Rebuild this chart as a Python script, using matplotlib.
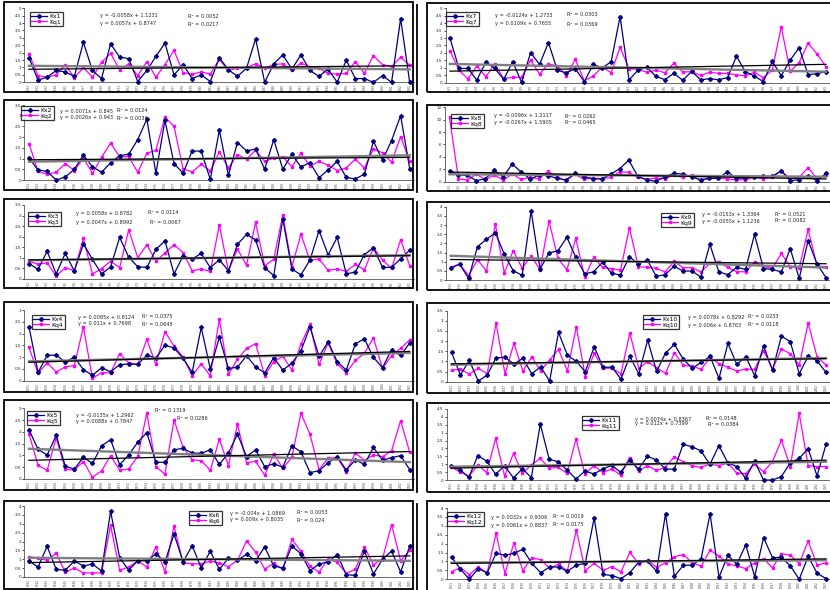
import numpy as np
import matplotlib
matplotlib.use('Agg')
import matplotlib.pyplot as plt
from matplotlib.patches import Rectangle
from matplotlib.lines import Line2D

W, H = 830, 590
years = [str(y) for y in range(1961, 2004)]

kx1 = [1.65, 0.15, 0.35, 0.8, 0.7, 0.4, 2.7, 0.8, 0.25, 2.6, 1.7, 1.6, 0.05, 0.8, 1.75, 2.65, 0.5, 1.2, 0.25, 0.5, 0.05, 1.65, 0.85, 0.4, 0.95, 2.95, 0.0, 1.25, 1.85, 0.9, 1.85, 0.8, 0.4, 0.9, 0.0, 1.5, 0.25, 0.25, 0.0, 0.45, 0.0, 4.3, 0.0]
kq1 = [1.9, 0.45, 0.35, 0.5, 1.2, 0.3, 1.0, 0.35, 1.35, 1.95, 0.85, 1.25, 0.45, 1.4, 0.35, 1.2, 2.15, 0.65, 0.55, 0.7, 0.55, 1.55, 0.8, 0.95, 1.0, 1.25, 0.95, 1.2, 1.25, 0.8, 1.3, 1.05, 0.95, 0.6, 0.55, 0.6, 1.4, 0.6, 1.8, 1.2, 1.05, 1.7, 1.15]
kx2 = [1.02, 0.47, 0.4, 0.0, 0.14, 0.5, 1.16, 0.62, 0.36, 0.8, 1.14, 1.2, 1.89, 2.84, 0.31, 2.78, 0.77, 0.31, 1.36, 1.34, 0.03, 2.33, 0.22, 1.75, 1.36, 1.44, 0.5, 1.89, 0.5, 1.2, 0.61, 0.81, 0.11, 0.47, 0.87, 0.12, 0.05, 0.27, 1.81, 0.92, 1.84, 3.0, 0.53]
kq2 = [1.7, 0.4, 0.27, 0.36, 0.77, 0.44, 1.02, 0.31, 1.06, 1.72, 1.09, 1.09, 0.36, 1.25, 1.38, 2.94, 2.5, 0.52, 0.38, 0.73, 0.42, 1.31, 0.56, 1.19, 0.97, 1.39, 0.87, 1.02, 1.09, 0.62, 1.25, 0.64, 0.87, 0.69, 0.44, 0.56, 0.98, 0.56, 1.45, 1.27, 0.83, 2.03, 0.87]
kx3 = [0.73, 0.46, 1.31, 0.24, 1.21, 0.38, 1.66, 0.93, 0.24, 0.57, 1.97, 1.03, 0.58, 0.55, 1.4, 1.81, 0.24, 1.09, 0.95, 1.21, 0.54, 0.91, 0.39, 1.64, 2.11, 1.85, 0.54, 0.16, 2.84, 0.47, 0.2, 0.9, 2.29, 1.14, 1.97, 0.24, 0.33, 1.15, 1.48, 0.55, 0.55, 0.96, 1.36]
kq3 = [0.85, 0.69, 0.77, 0.14, 0.54, 0.39, 1.92, 0.24, 0.49, 0.84, 0.54, 2.32, 1.01, 1.62, 0.85, 1.23, 1.62, 1.25, 0.39, 0.47, 0.36, 2.56, 0.38, 1.42, 0.65, 2.68, 0.63, 0.93, 3.03, 0.58, 2.11, 0.88, 0.95, 0.41, 0.47, 0.36, 0.69, 0.43, 1.48, 0.9, 0.5, 1.86, 0.63]
kx4 = [2.29, 0.35, 1.07, 1.09, 0.79, 1.0, 0.47, 0.23, 0.55, 0.38, 0.68, 0.71, 0.69, 1.09, 0.96, 1.51, 1.39, 0.95, 0.35, 2.26, 0.5, 1.84, 0.52, 0.57, 1.06, 0.59, 0.33, 0.98, 0.45, 0.74, 1.27, 2.28, 1.03, 1.65, 0.81, 0.45, 1.56, 1.78, 0.99, 0.55, 1.32, 1.07, 1.6]
kq4 = [1.41, 0.31, 0.76, 0.37, 0.59, 0.64, 2.28, 0.1, 0.34, 0.33, 1.15, 0.76, 0.69, 1.75, 0.69, 2.08, 1.47, 1.0, 0.21, 0.71, 0.21, 2.62, 0.27, 0.91, 1.37, 1.57, 0.21, 0.81, 1.03, 0.47, 1.54, 2.4, 0.69, 1.6, 0.71, 0.34, 0.86, 1.16, 1.82, 0.52, 1.06, 1.37, 1.73]
kx5 = [2.09, 1.26, 1.02, 1.85, 0.55, 0.42, 0.92, 0.66, 1.4, 1.67, 0.61, 1.02, 1.56, 1.97, 0.71, 0.71, 1.24, 1.3, 1.1, 1.09, 1.24, 0.62, 1.1, 1.91, 0.95, 1.24, 0.52, 0.65, 0.5, 1.41, 1.15, 0.27, 0.35, 0.69, 0.95, 0.38, 0.81, 0.62, 1.34, 0.79, 0.91, 0.99, 0.4]
kq5 = [1.92, 0.58, 0.37, 1.75, 0.42, 0.38, 0.74, 0.08, 0.34, 0.99, 0.37, 0.42, 0.96, 2.81, 0.52, 0.21, 2.5, 1.34, 0.81, 0.78, 0.37, 1.68, 0.57, 2.33, 0.69, 0.75, 0.16, 1.06, 0.45, 0.92, 2.79, 1.9, 0.4, 0.88, 0.91, 0.31, 1.1, 0.79, 1.02, 0.95, 1.19, 2.48, 1.13]
kx6 = [0.9, 0.56, 1.73, 0.43, 0.38, 0.9, 0.62, 0.73, 0.34, 3.7, 1.09, 0.39, 0.92, 0.92, 1.3, 0.85, 2.42, 0.85, 1.77, 0.51, 1.45, 0.43, 1.07, 0.94, 1.28, 0.92, 1.69, 0.62, 0.51, 1.75, 1.31, 0.36, 0.73, 0.85, 1.26, 0.13, 0.09, 1.46, 0.17, 1.0, 1.46, 0.28, 1.73]
kq6 = [1.13, 1.07, 0.94, 1.35, 0.26, 0.51, 0.23, 0.23, 0.23, 2.91, 0.38, 0.56, 0.9, 0.56, 1.69, 0.28, 2.87, 0.79, 0.75, 0.73, 0.9, 0.79, 0.58, 0.94, 2.03, 1.41, 0.45, 0.77, 0.43, 2.12, 1.45, 0.6, 0.28, 1.03, 0.83, 0.21, 0.43, 1.69, 0.69, 1.03, 2.95, 0.92, 1.5]
kx7 = [2.98, 0.96, 0.96, 0.18, 1.39, 0.96, 0.22, 1.41, 0.02, 2.02, 1.23, 2.69, 0.83, 0.67, 0.94, 0.07, 1.23, 0.99, 1.41, 4.44, 0.18, 0.85, 1.03, 0.43, 0.2, 0.63, 0.16, 0.76, 0.2, 0.27, 0.2, 0.34, 1.77, 0.74, 0.45, 0.07, 1.43, 0.47, 1.52, 2.35, 0.54, 0.61, 0.74]
kq7 = [2.13, 0.85, 0.25, 1.12, 0.4, 1.26, 0.27, 0.36, 0.36, 1.52, 0.58, 1.26, 1.12, 0.47, 1.57, 0.13, 0.45, 1.05, 0.67, 2.38, 0.94, 0.9, 0.7, 0.85, 0.67, 1.3, 0.72, 0.74, 0.49, 0.7, 0.63, 0.63, 0.52, 0.47, 0.7, 0.34, 0.85, 3.77, 0.76, 1.35, 2.65, 1.93, 1.08]
kx8 = [1.77, 1.08, 1.02, 0.16, 0.48, 1.83, 0.81, 2.85, 1.56, 0.43, 1.08, 0.97, 0.54, 0.27, 1.34, 0.81, 0.48, 0.43, 1.24, 2.1, 3.49, 0.86, 0.32, 0.05, 0.75, 1.34, 1.24, 0.81, 0.32, 0.54, 0.54, 1.61, 0.54, 0.59, 0.81, 0.91, 0.86, 1.77, 0.16, 0.32, 0.97, 0.16, 1.34]
kq8 = [10.38, 0.48, 0.27, 1.24, 0.32, 1.08, 0.27, 1.24, 0.38, 0.7, 0.48, 1.67, 0.81, 0.16, 1.24, 0.38, 0.59, 0.48, 0.7, 1.61, 1.51, 0.7, 0.38, 0.59, 0.48, 1.02, 0.7, 1.02, 0.16, 0.59, 0.59, 0.48, 0.27, 0.32, 0.7, 0.48, 0.7, 1.77, 0.43, 0.7, 2.26, 0.48, 1.02]
kx9 = [0.64, 0.87, 0.09, 1.82, 2.22, 2.58, 1.4, 0.51, 0.25, 3.78, 0.6, 1.47, 1.6, 2.33, 1.24, 0.33, 0.45, 0.98, 0.36, 0.27, 1.27, 0.87, 1.09, 0.2, 0.29, 0.75, 0.49, 0.49, 0.16, 1.95, 0.45, 0.29, 0.69, 0.58, 2.49, 0.62, 0.58, 0.44, 1.71, 0.09, 2.15, 0.87, 0.13]
kq9 = [0.69, 0.87, 0.24, 1.11, 0.49, 3.05, 0.38, 1.6, 0.64, 1.31, 0.56, 3.22, 1.18, 0.55, 2.27, 0.15, 1.24, 0.69, 0.62, 0.53, 2.85, 0.73, 0.69, 0.64, 0.44, 1.02, 0.67, 0.67, 0.44, 0.91, 1.0, 0.69, 0.45, 0.45, 0.98, 0.73, 0.64, 1.45, 0.73, 0.64, 2.76, 0.76, 0.73]
kx10 = [1.45, 0.33, 1.05, 0.03, 0.33, 1.18, 1.2, 0.87, 1.15, 0.39, 0.74, 0.03, 2.43, 1.31, 1.0, 0.49, 1.72, 0.71, 0.72, 0.13, 1.25, 0.38, 2.05, 0.51, 1.41, 1.84, 1.1, 0.66, 0.95, 1.25, 0.16, 1.89, 0.85, 1.23, 0.3, 1.76, 0.56, 2.25, 1.97, 0.39, 1.26, 1.03, 0.46]
kq10 = [0.57, 0.61, 0.38, 0.66, 0.39, 2.89, 0.38, 1.89, 0.53, 1.22, 0.53, 1.07, 1.59, 0.53, 2.71, 0.25, 1.4, 0.66, 0.67, 0.39, 2.4, 0.66, 0.99, 0.69, 0.41, 1.43, 0.8, 0.77, 0.61, 1.2, 0.89, 0.71, 0.53, 0.62, 0.61, 1.53, 0.62, 1.61, 1.38, 0.82, 2.89, 1.23, 0.82]
kx11 = [0.87, 0.66, 0.17, 1.54, 1.2, 0.36, 0.91, 0.13, 0.72, 0.15, 3.55, 1.31, 1.16, 0.63, 0.06, 0.57, 0.38, 0.7, 0.93, 0.49, 1.27, 0.7, 1.5, 1.27, 0.7, 0.68, 2.26, 2.11, 1.84, 0.99, 2.18, 1.1, 0.85, 0.11, 1.2, 0.0, 0.0, 0.21, 1.1, 1.37, 1.99, 0.25, 2.26]
kq11 = [0.8, 0.53, 0.23, 0.95, 0.47, 2.64, 0.25, 1.69, 0.42, 0.95, 1.37, 0.74, 0.82, 0.42, 2.6, 0.38, 0.91, 0.47, 0.7, 0.32, 1.42, 0.57, 0.91, 0.61, 0.8, 1.46, 1.16, 0.91, 0.8, 1.01, 0.91, 1.08, 0.44, 0.4, 1.01, 0.53, 1.16, 2.52, 0.85, 4.23, 0.91, 0.85, 0.85]
kx12 = [1.25, 0.58, 0.0, 0.6, 0.36, 1.46, 1.35, 1.46, 1.68, 0.9, 0.37, 0.69, 0.69, 0.45, 0.79, 0.9, 3.44, 0.28, 0.21, 0.04, 0.37, 0.97, 1.01, 0.45, 3.68, 0.17, 0.79, 0.79, 1.16, 3.68, 0.11, 1.35, 0.84, 1.94, 0.15, 2.34, 1.21, 1.23, 0.75, 0.0, 1.29, 0.34, 0.04]
kq12 = [0.43, 0.65, 0.26, 0.69, 0.36, 2.58, 0.32, 2.04, 0.49, 1.21, 1.1, 0.62, 0.84, 0.47, 2.77, 0.49, 0.9, 0.5, 0.71, 0.41, 1.51, 0.88, 1.07, 0.67, 0.93, 1.27, 1.38, 0.93, 0.73, 1.63, 1.31, 0.86, 0.75, 0.6, 0.92, 1.16, 0.64, 1.44, 1.35, 0.88, 2.15, 0.79, 0.93]

kx_series = [kx1, kx2, kx3, kx4, kx5, kx6, kx7, kx8, kx9, kx10, kx11, kx12]
kq_series = [kq1, kq2, kq3, kq4, kq5, kq6, kq7, kq8, kq9, kq10, kq11, kq12]
kx_names = ['Kx1', 'Kx2', 'Kx3', 'Kx4', 'Kx5', 'Kx6', 'Kx7', 'Kx8', 'Kx9', 'Kx10', 'Kx11', 'Kx12']
kq_names = ['Kq1', 'Kq2', 'Kq3', 'Kq4', 'Kq5', 'Kq6', 'Kq7', 'Kq8', 'Kq9', 'Kq10', 'Kq11', 'Kq12']

kx_slope = [-0.0058, 0.0071, 0.0058, 0.0085, -0.0135, -0.004, -0.0124, -0.0096, -0.0153, 0.0078, 0.0074, 0.0032]
kx_icpt = [1.1231, 0.845, 0.8782, 0.8124, 1.2962, 1.0869, 1.2733, 1.2117, 1.3364, 0.8292, 0.8367, 0.9306]
kx_r2 = [0.0052, 0.0124, 0.0114, 0.0375, 0.1319, 0.0053, 0.0303, 0.0262, 0.0521, 0.0233, 0.0148, 0.0019]
kq_slope = [0.0057, 0.0026, 0.0047, 0.011, 0.0088, 0.009, 0.0109, -0.0267, -0.0055, 0.006, 0.012, 0.0061]
kq_icpt = [0.8747, 0.943, 0.8992, 0.7698, 0.7847, 0.8035, 0.7655, 1.5905, 1.1236, 0.8763, 0.7399, 0.8837]
kq_r2 = [0.0217, 0.0036, 0.0067, 0.0645, 0.0286, 0.024, 0.0369, 0.0465, 0.0082, 0.0118, 0.0384, 0.0175]

y_max = [5, 3.5, 3.5, 3, 3, 4, 5, 12, 4, 3.5, 4.5, 4]
y_step = [0.5, 0.5, 0.5, 0.5, 0.5, 0.5, 0.5, 2, 0.5, 0.5, 0.5, 0.5]

# ---------------- layout (pixels) ----------------
# first point x, last point x, y of top tick, y of zero
ax_geom = [(29, 409.7, 8.3, 82.3), (29, 409.7, 105, 180), (29, 409.7, 205, 279), (29, 409.7, 310, 380.7),
           (29, 409.7, 408.3, 479), (29, 409.7, 506, 577),
           (450, 826, 8.3, 82.7), (449.5, 826, 107.3, 181.7), (450.7, 826, 206.7, 280), (451.5, 826, 310.7, 381.7),
           (451, 826, 409, 480), (451.5, 826, 508, 579.3)]
boxes = [(4, 2, 413, 92), (4, 100, 413, 190), (4, 199, 413, 288), (4, 302, 413, 392), (4, 400, 413, 490), (4, 501, 413, 589),
         (427, 3, 845, 92), (427, 105, 845, 191), (427, 202, 845, 290), (427, 303, 845, 393), (427, 403, 845, 492), (427, 501, 845, 600)]
leg_pos = [(30, 12), (21, 106), (28, 212), (32, 315), (27, 411), (189, 511),
           (446, 12), (451, 114), (661, 213), (643, 315), (582, 416), (447, 512)]
# eq x, eq y1, eq y2, r2 x1, r2 y1, r2 x2, r2 y2
txt_pos = [(100, 15, 24, 188, 16, 188, 24),
           (60, 111, 118, 117, 111, 117, 118),
           (76, 213, 222, 148, 213, 150, 222),
           (78, 317, 324, 142, 317, 142, 324),
           (76, 415, 421, 155, 411, 177, 418),
           (230, 513, 520, 297, 513, 297, 520),
           (495, 15, 24, 567, 15, 567, 24),
           (494, 116, 123, 565, 116, 565, 123),
           (702, 215, 221, 775, 215, 775, 221),
           (688, 317, 325, 748, 317, 748, 325),
           (635, 419, 424, 706, 419, 708, 424),
           (491, 517, 525, 553, 517, 553, 525)]

fig = plt.figure(figsize=(W / 100, H / 100), dpi=100)
fig.patch.set_facecolor('white')


def fb(l, t, r, b):
    return [l / W, 1 - b / H, (r - l) / W, (b - t) / H]


NAVY = '#000080'
MAG = '#FF00FF'

for p in range(12):
    l, t, r, b = boxes[p]
    fig.add_artist(Rectangle((l / W, 1 - b / H), (r - l) / W, (b - t) / H, transform=fig.transFigure,
                             fill=False, ec='black', lw=1.3))
    if p < 6:
        fig.add_artist(Line2D([417 / W, 417 / W], [1 - (b + 2) / H, 1 - (t + 3) / H], transform=fig.transFigure,
                              color='black', lw=1.3))
    xf, xl, yt, y0 = ax_geom[p]
    step = (xl - xf) / 42
    axl = xf - step / 2
    axr = axl + 43 * step
    ax = fig.add_axes(fb(axl, yt, axr, y0))
    ax.patch.set_alpha(0)
    x = np.arange(43)
    kx = np.array(kx_series[p])
    kq = np.array(kq_series[p])
    hx, = ax.plot(x, kx, color=NAVY, marker='D', ms=2.0, lw=0.9, clip_on=False, zorder=3)
    hq, = ax.plot(x, kq, color=MAG, marker='s', ms=1.9, lw=0.9, clip_on=False, zorder=2)
    xe = np.array([0, 42])
    ax.plot(xe, kx_slope[p] * (xe + 1) + kx_icpt[p], color='#7f7f7f', lw=1.7, zorder=4)
    ax.plot(xe, kq_slope[p] * (xe + 1) + kq_icpt[p], color='black', lw=0.9, zorder=5)
    ax.set_xlim(-0.5, 42.5)
    ax.set_ylim(0, y_max[p])
    yt_vals = np.arange(0, y_max[p] + y_step[p] / 2, y_step[p])
    ax.set_yticks(yt_vals)
    ax.set_yticklabels(['%g' % v for v in yt_vals], fontsize=3.0, color='#222222')
    ax.set_xticks(x)
    ax.set_xticklabels(years, rotation=90, fontsize=2.0, color='#444444')
    ax.tick_params(axis='y', length=1.5, width=0.5, pad=1)
    ax.tick_params(axis='x', length=0, pad=1.5)
    for s in ['top', 'right']:
        ax.spines[s].set_visible(False)
    for s in ['left', 'bottom']:
        ax.spines[s].set_color('#555555')
        ax.spines[s].set_linewidth(0.6)

    lx, ly = leg_pos[p]
    leg = ax.legend([hx, hq], [kx_names[p], kq_names[p]], loc='upper left',
                    bbox_to_anchor=(lx / W, 1 - ly / H), bbox_transform=fig.transFigure,
                    fontsize=4.3, frameon=True, fancybox=False, edgecolor='black',
                    borderpad=0.25, handlelength=2.6, handletextpad=0.4, labelspacing=0.12,
                    borderaxespad=0)
    leg.get_frame().set_linewidth(0.9)
    leg.set_zorder(10)

    ex, ey1, ey2, rx1, ry1, rx2, ry2 = txt_pos[p]
    fs = 3.6
    fig.text(ex / W, 1 - ey1 / H, 'y = %gx + %g' % (kx_slope[p], kx_icpt[p]), fontsize=fs, va='center', ha='left', color='#222222')
    fig.text(ex / W, 1 - ey2 / H, 'y = %gx + %g' % (kq_slope[p], kq_icpt[p]), fontsize=fs, va='center', ha='left', color='#222222')
    fig.text(rx1 / W, 1 - ry1 / H, 'R² = %g' % kx_r2[p], fontsize=fs, va='center', ha='left', color='#222222')
    fig.text(rx2 / W, 1 - ry2 / H, 'R² = %g' % kq_r2[p], fontsize=fs, va='center', ha='left', color='#222222')

fig.savefig('out.png', dpi=100, facecolor='white')
